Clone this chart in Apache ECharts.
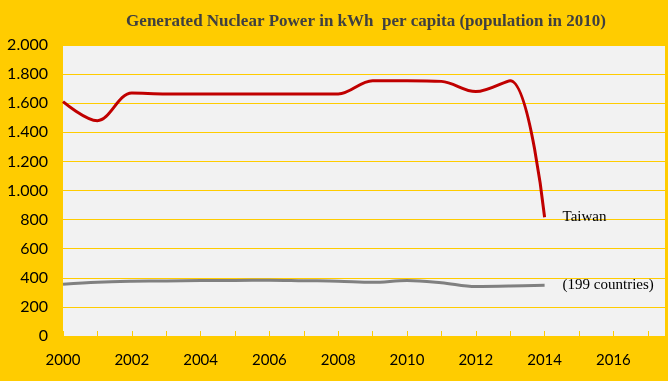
<!DOCTYPE html>
<html><head><meta charset="utf-8">
<script src="https://cdn.jsdelivr.net/npm/echarts@6/dist/echarts.min.js"></script>
<style>html,body{margin:0;padding:0;background:#FFCC00;}#c{width:668px;height:381px;}</style>
</head><body><div id="c"></div>
<script>
const years = [2000,2001,2002,2003,2004,2005,2006,2007,2008,2009,2010,2011,2012,2013,2014];
const taiwan = [1611,1480,1670,1664,1664,1664,1664,1664,1664,1755,1755,1750,1680,1755,816];
const world = [356,370,376,378,381,382,384,380,377,369,381,366,340,343,349];
const titleText = 'Generated Nuclear Power in kWh  per capita (population in 2010)';
const taiwanLabel = 'Taiwan';
const worldLabel = '(199 countries)';

const chart = echarts.init(document.getElementById('c'));
chart.setOption({
  backgroundColor: '#FFCC00',
  animation: false,
  title: {
    text: titleText, left: 361, top: 8, textAlign: 'center',
    textStyle: {fontFamily: 'Liberation Serif', fontWeight: 'bold', fontSize: 17, color: '#404040'}
  },
  grid: {left: 63, right: -2, top: 45, bottom: 45, show: true, backgroundColor: '#F2F2F2', borderWidth: 0},
  xAxis: {
    type: 'value', min: 2000, max: 2017.5, interval: 1,
    axisLine: {show: true, lineStyle: {color: '#FFCC00'}},
    axisTick: {show: true, inside: true, length: 5, lineStyle: {color: '#FFCC00'}},
    splitLine: {show: false},
    axisLabel: {
      fontFamily: 'Lato', fontSize: 15, color: '#000', margin: 17,
      formatter: v => (Number.isInteger(v) && v % 2 === 0) ? String(v) : ''
    }
  },
  yAxis: {
    type: 'value', min: 0, max: 2000, interval: 200,
    axisLine: {show: false}, axisTick: {show: false},
    splitLine: {lineStyle: {color: '#FFCC00', width: 1}},
    axisLabel: {
      fontFamily: 'Lato', fontSize: 16, color: '#000', margin: 15,
      formatter: v => v >= 1000 ? (Math.floor(v/1000) + '.' + String(v%1000).padStart(3,'0')) : String(v)
    }
  },
  series: [
    {
      type: 'line', data: years.map((y,i)=>[y, taiwan[i]]), smooth: 0.35, symbol: 'none',
      lineStyle: {color: '#C00000', width: 3},
      endLabel: {show: true, formatter: taiwanLabel, distance: 18,
        fontFamily: 'Liberation Serif', fontSize: 15, color: '#000'}
    },
    {
      type: 'line', data: years.map((y,i)=>[y, world[i]]), smooth: 0.35, symbol: 'none',
      lineStyle: {color: '#808080', width: 3},
      endLabel: {show: true, formatter: worldLabel, distance: 18,
        fontFamily: 'Liberation Serif', fontSize: 15, color: '#000'}
    }
  ]
});
</script></body></html>
